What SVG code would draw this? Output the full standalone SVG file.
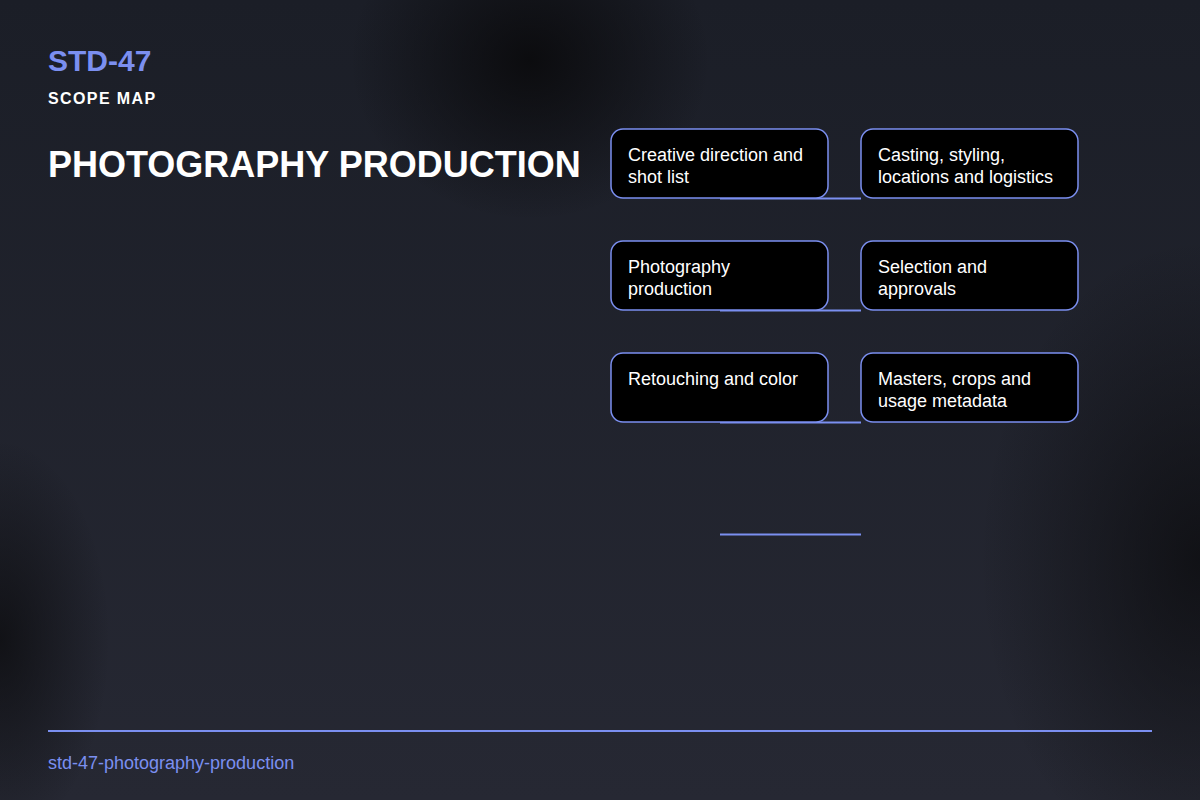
<svg xmlns="http://www.w3.org/2000/svg" width="1200" height="800" viewBox="0 0 1200 800">
<defs>
<linearGradient id="bg" x1="0" y1="0" x2="0" y2="1">
<stop offset="0" stop-color="#1b1e27"/>
<stop offset="1" stop-color="#262833"/>
</linearGradient>
<radialGradient id="d1" cx="0.5" cy="0.5" r="0.5">
<stop offset="0" stop-color="#0a0a0c" stop-opacity="0.9"/>
<stop offset="1" stop-color="#0a0a0c" stop-opacity="0"/>
</radialGradient>
<style>
.node rect{fill:#000;stroke:#7b8ff0;stroke-width:1.5}
.node text{font-family:"Liberation Sans",Arial,sans-serif;font-size:18px;fill:#fff}
.conn line{stroke:#7b8ff0;stroke-width:2}
</style>
</defs>
<rect width="1200" height="800" fill="url(#bg)"/>
<ellipse cx="530" cy="60" rx="180" ry="160" fill="url(#d1)"/>
<ellipse cx="0" cy="640" rx="110" ry="200" fill="url(#d1)" opacity="0.8"/>
<ellipse cx="1200" cy="560" rx="220" ry="320" fill="url(#d1)" opacity="0.8"/>
<text x="48" y="71" font-family="Liberation Sans,Arial,sans-serif" font-size="30" font-weight="bold" fill="#7b8ff0">STD-47</text>
<text x="48" y="104" font-family="Liberation Sans,Arial,sans-serif" font-size="16" font-weight="bold" letter-spacing="1.4" fill="#fff">SCOPE MAP</text>
<text x="48" y="177" font-family="Liberation Sans,Arial,sans-serif" font-size="36" font-weight="bold" fill="#fff">PHOTOGRAPHY PRODUCTION</text>
<g id="connectors" class="conn">
<line x1="720" y1="198.5" x2="861" y2="198.5"/>
<line x1="720" y1="310.5" x2="861" y2="310.5"/>
<line x1="720" y1="422.5" x2="861" y2="422.5"/>
<line x1="720" y1="534.5" x2="861" y2="534.5"/>
</g>
<g id="n1" class="node"><rect x="611" y="129" width="217" height="69" rx="12"/><text x="628" y="161">Creative direction and</text><text x="628" y="183">shot list</text></g>
<g id="n2" class="node"><rect x="861" y="129" width="217" height="69" rx="12"/><text x="878" y="161">Casting, styling,</text><text x="878" y="183">locations and logistics</text></g>
<g id="n3" class="node"><rect x="611" y="241" width="217" height="69" rx="12"/><text x="628" y="273">Photography</text><text x="628" y="295">production</text></g>
<g id="n4" class="node"><rect x="861" y="241" width="217" height="69" rx="12"/><text x="878" y="273">Selection and</text><text x="878" y="295">approvals</text></g>
<g id="n5" class="node"><rect x="611" y="353" width="217" height="69" rx="12"/><text x="628" y="385">Retouching and color</text></g>
<g id="n6" class="node"><rect x="861" y="353" width="217" height="69" rx="12"/><text x="878" y="385">Masters, crops and</text><text x="878" y="407">usage metadata</text></g>
<line x1="48" y1="731" x2="1152" y2="731" stroke="#7b8ff0" stroke-width="2"/>
<text x="48" y="769" font-family="Liberation Sans,Arial,sans-serif" font-size="18" fill="#7b8ff0">std-47-photography-production</text>
</svg>
